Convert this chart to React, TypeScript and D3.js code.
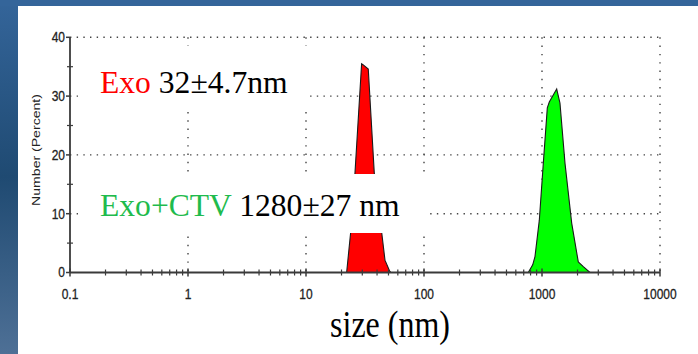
import React from "react";
import * as d3 from "d3";

// Exo peak (red) — size (nm) vs Number (%)
const exoSizes = [22.1, 23.9, 26.0, 29.6, 30.6, 33.7, 37.9, 43.8, 46.7, 51.0, 52.3];
const exoValues = [0, 6.8, 16.9, 35.5, 35.3, 34.6, 16.9, 6.8, 2.1, 0.3, 0];

// Exo+CTV peak (green)
const ctvSizes = [765, 834, 872, 949, 1026, 1109, 1153, 1332, 1420, 1566, 1785, 2030, 2239, 2552];
const ctvValues = [0, 1.3, 2.7, 8.9, 18.6, 28.0, 29.0, 31.2, 28.8, 18.6, 8.4, 1.8, 1.0, 0];

const xTicks = [0.1, 1, 10, 100, 1000, 10000];
const xTickLabels = ["0.1", "1", "10", "100", "1000", "10000"];
const yTicks = [0, 10, 20, 30, 40];
const yMinorTicks = [5, 15, 25, 35];
const xMinorMultipliers = [2, 3, 4, 5, 6, 7, 8, 9];

export default function App() {
  const W = 698, H = 354;
  const x = d3.scaleLog().domain([0.1, 10000]).range([70, 660]);
  const y = d3.scaleLinear().domain([0, 40]).range([272.5, 37.3]);

  const area = d3
    .area<[number, number]>()
    .x((d) => x(d[0]))
    .y0(y(0))
    .y1((d) => y(d[1]))
    .curve(d3.curveLinear);

  const exoData: [number, number][] = exoSizes.map((s, i) => [s, exoValues[i]]);
  const ctvData: [number, number][] = ctvSizes.map((s, i) => [s, ctvValues[i]]);

  const xMinor: number[] = [];
  for (let dec = 0.1; dec < 10000; dec *= 10) {
    xMinorMultipliers.forEach((m) => xMinor.push(+(dec * m).toPrecision(3)));
  }

  const x0 = x(0.1), x1 = x(10000), yTop = y(40), yBot = y(0);
  const sans = "Arial, 'Liberation Sans', sans-serif";
  const serif = "'Liberation Serif', 'Times New Roman', serif";

  return (
    <svg
      width={W}
      height={H}
      style={{ position: "fixed", left: 0, top: 0, display: "block" }}
      xmlns="http://www.w3.org/2000/svg"
    >
      <defs>
        <linearGradient id="leftGrad" x1="0" y1="0" x2="0" y2="1">
          <stop offset="0" stopColor="#34659a" />
          <stop offset="0.5" stopColor="#1f4a72" />
          <stop offset="1" stopColor="#4e7096" />
        </linearGradient>
      </defs>
      <rect x={0} y={0} width={W} height={H} fill="#ffffff" />
      <rect x={0} y={0} width={18} height={H} fill="url(#leftGrad)" />
      <rect x={0} y={0} width={W} height={6} fill="#34659a" />

      {/* grid */}
      {yTicks.filter((t) => t > 0).map((t) => (
        <line key={"hg" + t} x1={x0} x2={x1} y1={y(t)} y2={y(t)} stroke="#444" strokeWidth={1.4} strokeDasharray="1.4 5.27" />
      ))}
      {xTicks.filter((t) => t > 0.1).map((t) => (
        <line key={"vg" + t} x1={x(t)} x2={x(t)} y1={yTop} y2={yBot} stroke="#444" strokeWidth={1.4} strokeDasharray="1.4 6.9" />
      ))}

      {/* peaks */}
      <path d={area(exoData) || ""} fill="#ff0000" stroke="#1a1a1a" strokeWidth={1.1} />
      <path d={area(ctvData) || ""} fill="#00ff00" stroke="#1a1a1a" strokeWidth={1.1} />

      {/* axes */}
      <line x1={x0} x2={x1} y1={yBot} y2={yBot} stroke="#3a3a3a" strokeWidth={1.8} />
      <line x1={x0} x2={x0} y1={yTop} y2={yBot} stroke="#3a3a3a" strokeWidth={1.8} />
      {xTicks.map((t) => (
        <line key={"xt" + t} x1={x(t)} x2={x(t)} y1={yBot - 4} y2={yBot + 4} stroke="#3a3a3a" strokeWidth={1.5} />
      ))}
      {xMinor.map((t, i) => (
        <line key={"xm" + i} x1={x(t)} x2={x(t)} y1={yBot - 3} y2={yBot + 3} stroke="#3a3a3a" strokeWidth={1.2} />
      ))}
      {yTicks.map((t) => (
        <line key={"yt" + t} x1={x0 - 4} x2={x0} y1={y(t)} y2={y(t)} stroke="#3a3a3a" strokeWidth={1.5} />
      ))}
      {yMinorTicks.map((t) => (
        <line key={"ym" + t} x1={x0 - 3} x2={x0 + 3} y1={y(t)} y2={y(t)} stroke="#3a3a3a" strokeWidth={1.2} />
      ))}

      {/* tick labels */}
      {yTicks.map((t) => (
        <text
          key={"yl" + t}
          transform={`translate(${x0 - 5},${y(t) + 4.8}) scale(1,1.2)`}
          textAnchor="end"
          fontFamily={sans}
          fontSize={12}
          fill="#222"
          stroke="#222"
          strokeWidth={0.25}
        >
          {String(t)}
        </text>
      ))}
      {xTicks.map((t, i) => (
        <text
          key={"xl" + t}
          transform={`translate(${x(t)},${298.5}) scale(1,1.2)`}
          textAnchor="middle"
          fontFamily={sans}
          fontSize={12}
          fill="#222"
          stroke="#222"
          strokeWidth={0.25}
        >
          {xTickLabels[i]}
        </text>
      ))}

      {/* axis titles */}
      <text
        transform={`translate(40,150) scale(1,1.28) rotate(-90)`}
        textAnchor="middle"
        fontFamily={sans}
        fontSize={11}
        fill="#222"
      >
        Number (Percent)
      </text>
      <text
        transform={`translate(390,337) scale(1,1.2)`}
        textAnchor="middle"
        fontFamily={serif}
        fontSize={32}
        fill="#000"
      >
        size (nm)
      </text>

      {/* annotation boxes */}
      <rect x={78} y={46} width={232} height={62} fill="#ffffff" />
      <text x={100} y={92.7} fontFamily={serif} fontSize={31.6} fill="#000">
        <tspan fill="#ff0000">Exo</tspan>
        <tspan> 32±4.7nm</tspan>
      </text>
      <rect x={78} y={174} width={350} height={59} fill="#ffffff" />
      <text x={100} y={215.7} fontFamily={serif} fontSize={31.6} fill="#000">
        <tspan fill="#1fbb4d">Exo+CTV</tspan>
        <tspan> 1280±27 nm</tspan>
      </text>
    </svg>
  );
}
